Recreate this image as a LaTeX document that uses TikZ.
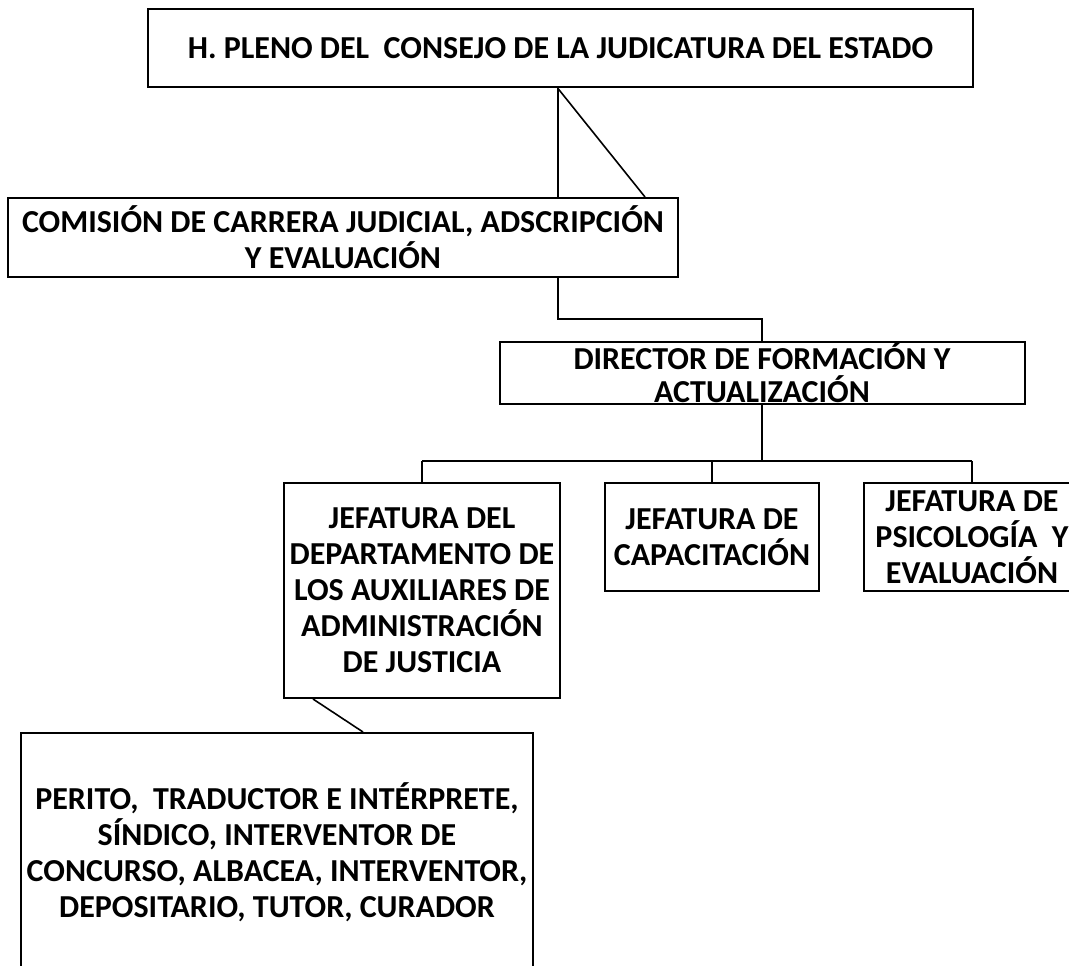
\documentclass[tikz,border=0pt]{standalone}
\usepackage{fontspec}
\setmainfont{Carlito}
\begin{document}
\begin{tikzpicture}[x=1pt,y=-1pt,
  box/.style={draw=black, line width=2pt, align=center, inner sep=0pt,
    font=\bfseries\fontsize{32}{36}\selectfont},
  link/.style={draw=black, line width=1.6pt}]
\useasboundingbox (0,0) rectangle (1069,966);
\clip (0,0) rectangle (1069,966);
\node[box, minimum width=825, minimum height=78] (top) at (560.5,48.5)
  {H. PLENO DEL\ \ CONSEJO DE LA JUDICATURA DEL ESTADO};
\node[box, minimum width=670, minimum height=79] (com) at (343,237.5)
  {COMISIÓN DE CARRERA JUDICIAL, ADSCRIPCIÓN\\Y EVALUACIÓN};
\node[box, minimum width=525, minimum height=62,
  font=\bfseries\fontsize{32}{33}\selectfont] (dir) at (762,373)
  {DIRECTOR DE FORMACIÓN Y\\ACTUALIZACIÓN};
\node[box, minimum width=276, minimum height=215] (jaux) at (422,590.5)
  {JEFATURA DEL\\DEPARTAMENTO DE\\LOS AUXILIARES DE\\ADMINISTRACIÓN\\DE JUSTICIA};
\node[box, minimum width=214, minimum height=108] (jcap) at (712,537)
  {JEFATURA DE\\CAPACITACIÓN};
\node[box, minimum width=216, minimum height=108] (jpsi) at (972,537)
  {JEFATURA DE\\PSICOLOGÍA\ \ Y\\EVALUACIÓN};
\node[box, minimum width=512, minimum height=238] (per) at (277,852)
  {PERITO,\ \ TRADUCTOR E INTÉRPRETE,\\SÍNDICO, INTERVENTOR DE\\CONCURSO, ALBACEA, INTERVENTOR,\\DEPOSITARIO, TUTOR, CURADOR};
\coordinate (c1) at (558,0);
\coordinate (c2) at (645,0);
\coordinate (h1) at (0,319);
\coordinate (bus) at (0,461);
\coordinate (d1) at (313,0);
\coordinate (d2) at (363,0);
\draw[link] (top.south -| c1) -- (com.north -| c1);
\draw[link] (top.south -| c1) -- (com.north -| c2);
\draw[link] (com.south -| c1) -- (c1 |- h1) -| (dir.north);
\draw[link] (dir.south) -- (dir.south |- bus);
\draw[link] (bus -| jaux.north) -- (bus -| jpsi.north);
\draw[link] (bus -| jaux.north) -- (jaux.north);
\draw[link] (bus -| jcap.north) -- (jcap.north);
\draw[link] (bus -| jpsi.north) -- (jpsi.north);
\draw[link] (jaux.south -| d1) -- (per.north -| d2);
\end{tikzpicture}
\end{document}
